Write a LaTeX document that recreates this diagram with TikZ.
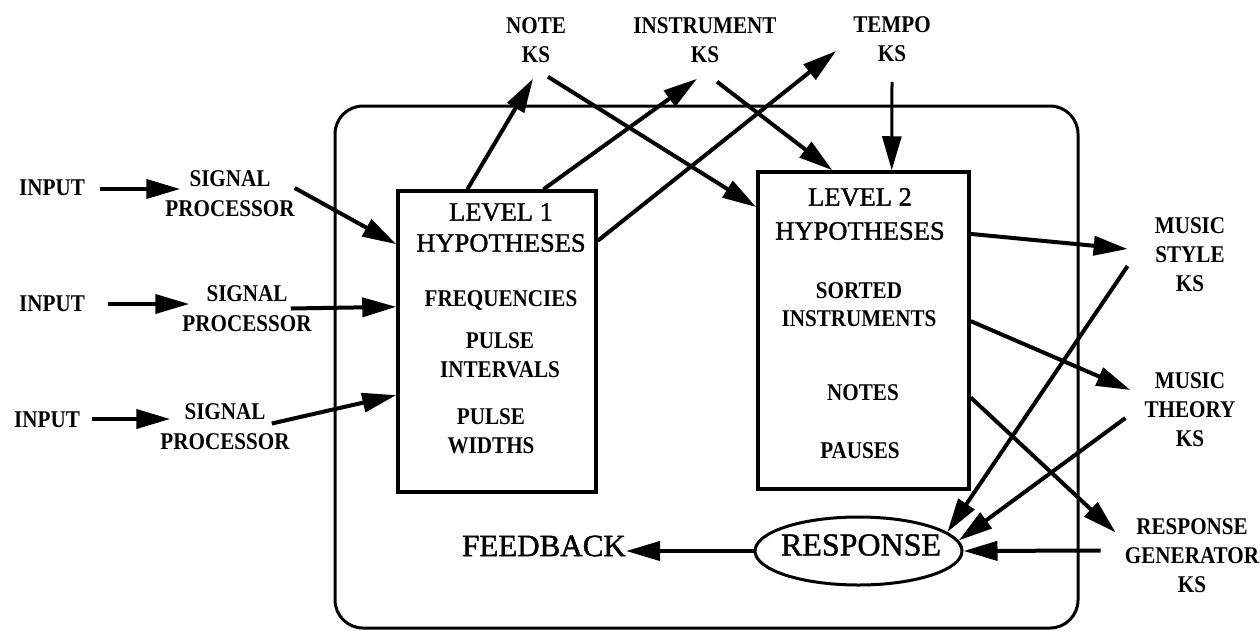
\documentclass[tikz,border=0pt]{standalone}
\usepackage{fontspec}
\setmainfont{Liberation Serif}
\newfontfamily\labfont{Liberation Serif}[FakeStretch=0.88]
\newfontfamily\bigfont{Liberation Serif}[FakeBold=1.3]
\usetikzlibrary{arrows.meta,shapes.geometric,calc}
\begin{document}
\begin{tikzpicture}[x=1pt,y=-1pt,
  lab/.style={font=\labfont\bfseries\fontsize{24}{29}\selectfont, align=center, inner sep=0pt},
  big/.style={font=\bigfont\fontsize{26.5}{31}\selectfont, align=center, inner sep=0pt},
  hbox/.style={draw, line width=3.5pt, inner sep=0pt},
  arr/.style={-{Triangle[length=34pt,width=19pt]}, line width=4pt},
]
\useasboundingbox (0,0) rectangle (1260,630);
% frame
\draw[line width=3pt, rounded corners=28pt] (335,106) rectangle (1078,628);

% boxes
\node[hbox, minimum width=198pt, minimum height=301pt] (L1) at (497,341.5) {};
\node[hbox, minimum width=211pt, minimum height=317pt] (L2) at (863.5,330.5) {};
\node[draw, ellipse, line width=3pt, minimum width=207pt, minimum height=68pt, inner sep=0pt] (resp) at (858.5,551) {};
\node[font=\bigfont\fontsize{32}{36}\selectfont, inner sep=0pt] (resptext) at (861,545) {RESPONSE};
\node[font=\bigfont\fontsize{31}{36}\selectfont, inner sep=0pt] (feedback) at (544,546) {FEEDBACK};

% box contents
\node[big] (l1title) at (501,227.5) {LEVEL 1\\HYPOTHESES};
\node[lab] (freq) at (501,300) {FREQUENCIES};
\node[lab] (pint) at (500,355) {PULSE\\INTERVALS};
\node[lab] (pwid) at (491,431.5) {PULSE\\WIDTHS};
\node[big, font=\bigfont\fontsize{26.5}{34}\selectfont] (l2title) at (860,214) {LEVEL 2\\HYPOTHESES};
\node[lab, font=\labfont\bfseries\fontsize{24}{28}\selectfont] (sorted) at (859,304.5) {SORTED\\INSTRUMENTS};
\node[lab] (notes) at (863,393) {NOTES};
\node[lab] (pauses) at (860,451) {PAUSES};

% left labels
\node[lab] (in1) at (52,188) {INPUT};
\node[lab] (in2) at (52,304) {INPUT};
\node[lab] (in3) at (47,420) {INPUT};
\node[lab, font=\labfont\bfseries\fontsize{24}{30}\selectfont] (sp1) at (230,194) {SIGNAL\\PROCESSOR};
\node[lab, font=\labfont\bfseries\fontsize{24}{30}\selectfont] (sp2) at (247,308.5) {SIGNAL\\PROCESSOR};
\node[lab, font=\labfont\bfseries\fontsize{24}{30}\selectfont] (sp3) at (225,426.5) {SIGNAL\\PROCESSOR};

% top labels
\node[lab] (note) at (536,40) {NOTE\\KS};
\node[lab] (inst) at (705,40) {INSTRUMENT\\KS};
\node[lab] (tempo) at (892,39) {TEMPO\\KS};

% right labels
\node[lab] (style) at (1190,255) {MUSIC\\STYLE\\KS};
\node[lab] (theory) at (1190,410) {MUSIC\\THEORY\\KS};
\node[lab] (rg) at (1192,555.5) {RESPONSE\\GENERATOR\\KS};

% input arrows
\draw[arr] ($(in1.east)+(15,1)$) -- ($(in1.east -| sp1.west)+(15,1)$);
\draw[arr] ($(in2.east)+(23,0)$) -- ($(in2.east -| sp2.west)+(7,0)$);
\draw[arr] ($(in3.east)+(12,-1)$) -- ($(in3.east -| sp3.west)+(10,-1)$);

% signal processors to level 1
\draw[arr] ($(sp1.east)+(0,-6)$) -- (L1.136.6);
\draw[arr] ($(sp2.east)+(-21,0)$) -- (L1.161.3);
\draw[arr] ($(sp3.east)+(-18,-3)$) -- (L1.208.4);

% level 1 to knowledge sources
\draw[arr] (L1.101.3) -- ($(note.south)+(-3,16)$);
\draw[arr] (L1.73.4) -- ($(inst.south)+(-8,16)$);
\draw[arr] (L1.45.1) -- ($(tempo.west)+(-17,12)$);

% knowledge sources to level 2
\draw[arr] ($(note.south)+(12,14)$) -- (L2.131.7);
\draw[arr] ($(inst.south)+(12,19)$) -- (L2.101.9);
\draw[arr, line width=3pt] ($(tempo.south)+(0,20)$) -- (L2.80.5);

% level 2 to right knowledge sources
\draw[arr] (L2.42.4) -- ($(style.west)+(-27,-6)$);
\draw[arr] (L2.5.7) -- ($(theory.west)+(-14,-20)$);
\draw[arr] (L2.-32.2) -- ($(rg.west)+(-9,-23)$);

% right knowledge sources to response
\draw[arr] ($(style.west)+(-27,11)$) -- (resp.12.7);
\draw[arr] ($(theory.west)+(-19,8)$) -- (resp.6);
\draw[arr] ($(rg.west)+(-24,-5)$) -- (resp.east);

% feedback
\draw[arr] (resp.west) -- (resp.west -| feedback.east);
\end{tikzpicture}
\end{document}
